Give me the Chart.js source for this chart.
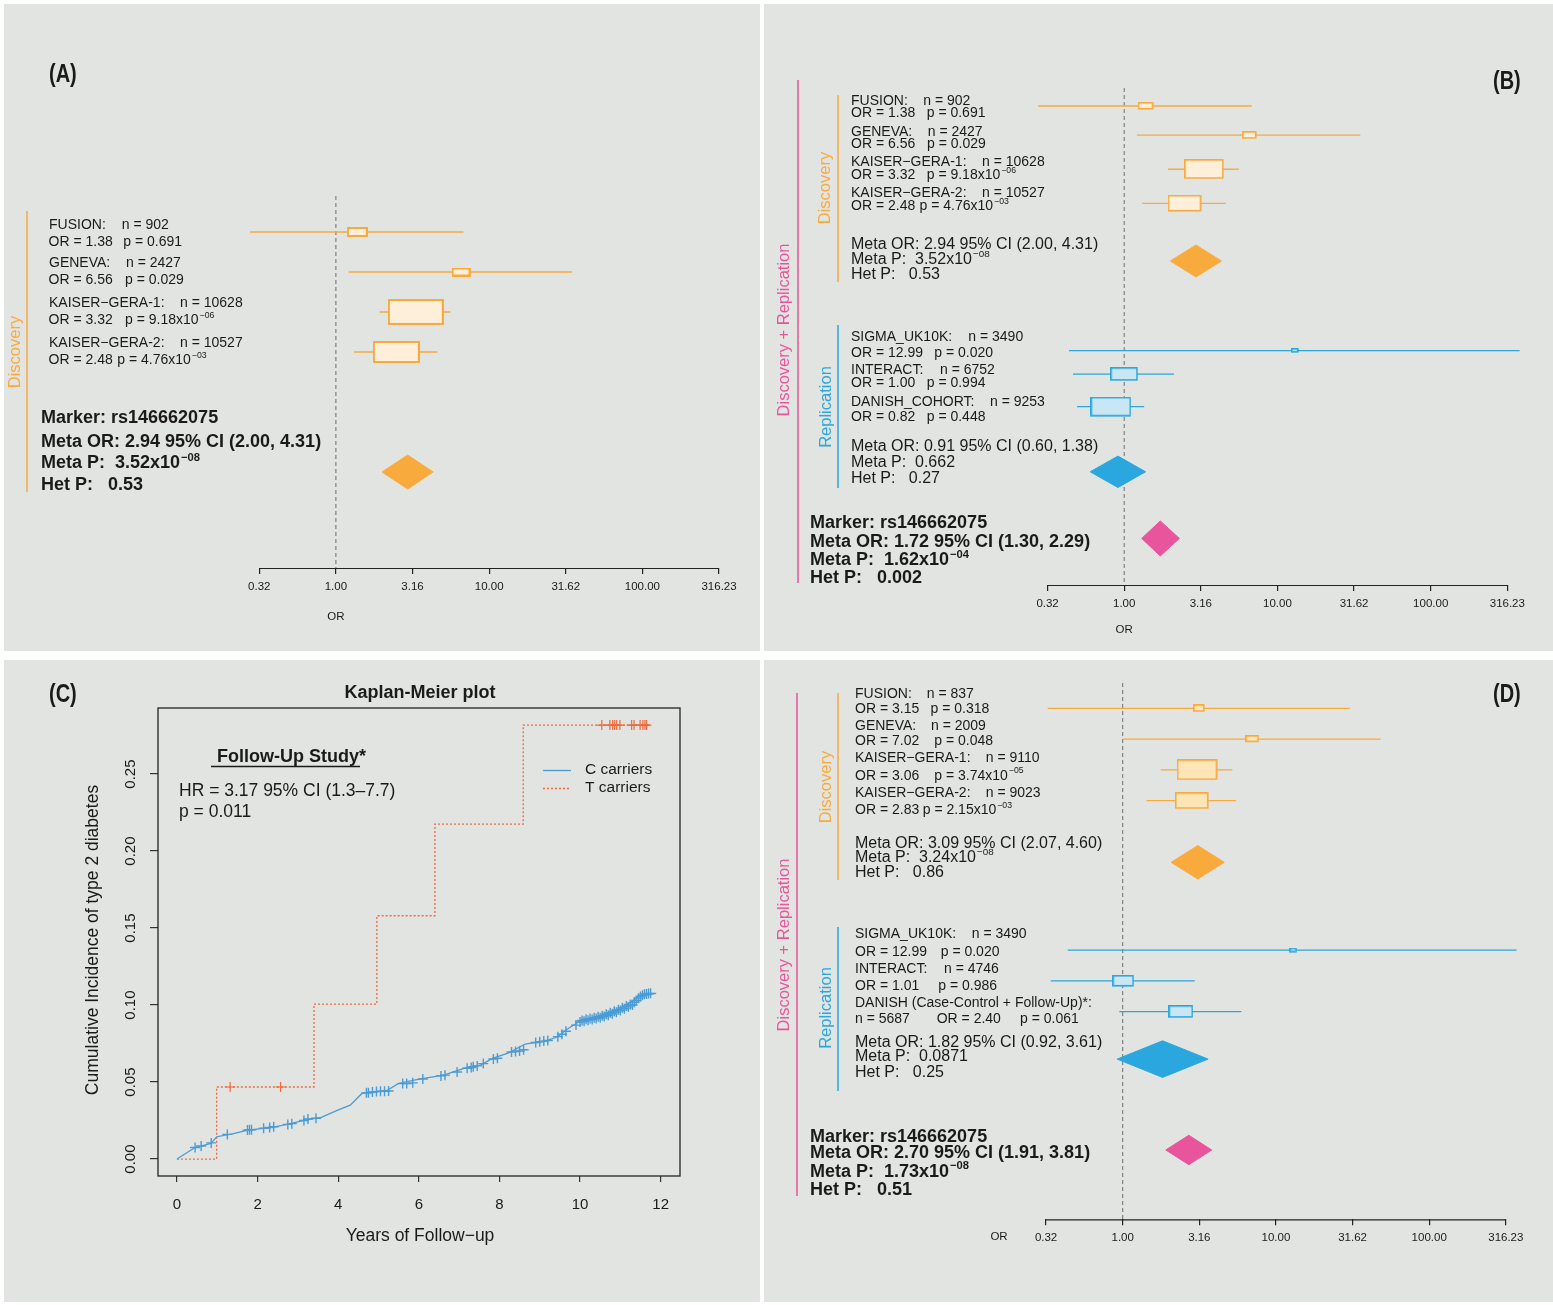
<!DOCTYPE html>
<html>
<head>
<meta charset="utf-8">
<script src="https://cdn.jsdelivr.net/npm/chart.js@4.4.1/dist/chart.umd.min.js"></script>
<style>
  body { margin: 0; background: #fff; width: 1553px; height: 1305px; position: relative; overflow: hidden; }
  .panel { position: absolute; background: #e2e4e1; }
  canvas { display: block; }
</style>
</head>
<body>
<div class="panel" style="left:4px;top:4px;width:756px;height:647px"><canvas id="chartA" width="756" height="647"></canvas></div>
<div class="panel" style="left:764px;top:4px;width:789px;height:647px"><canvas id="chartB" width="789" height="647"></canvas></div>
<div class="panel" style="left:4px;top:660px;width:756px;height:642px"><canvas id="chartC" width="756" height="642"></canvas></div>
<div class="panel" style="left:764px;top:660px;width:789px;height:642px"><canvas id="chartD" width="789" height="642"></canvas></div>
<script>
// ---------- data ----------
const axisTicks = [0.3162, 1, 3.162, 10, 31.62, 100, 316.23];
const axisLabels = ['0.32', '1.00', '3.16', '10.00', '31.62', '100.00', '316.23'];

// discovery cohorts (panels A and B)
const discStudies = ['FUSION', 'GENEVA', 'KAISER−GERA-1', 'KAISER−GERA-2'];
const discN = [902, 2427, 10628, 10527];
const discOR = [1.38, 6.56, 3.32, 2.48];
const discLo = [0.275, 1.21, 1.93, 1.31];
const discHi = [6.8, 34.8, 5.6, 4.6];
const discP = ['0.691', '0.029', '9.18x10^−06', '4.76x10^−03'];
const discMeta = [2.94, 2.00, 4.31];
const discMetaP = '3.52x10^−08';
const discHetP = '0.53';

// replication cohorts (panel B)
const repStudies = ['SIGMA_UK10K', 'INTERACT', 'DANISH_COHORT'];
const repN = [3490, 6752, 9253];
const repOR = [12.99, 1.00, 0.82];
const repLo = [0.436, 0.463, 0.492];
const repHi = [380, 2.11, 1.35];
const repP = ['0.020', '0.994', '0.448'];
const repMeta = [0.91, 0.60, 1.38];
const repMetaP = '0.662';
const repHetP = '0.27';

const allMeta = [1.72, 1.30, 2.29];
const allMetaP = '1.62x10^−04';
const allHetP = '0.002';

// panel D
const discN_D = [837, 2009, 9110, 9023];
const discOR_D = [3.15, 7.02, 3.06, 2.83];
const discLo_D = [0.324, 1.00, 1.77, 1.43];
const discHi_D = [30.3, 48.2, 5.2, 5.49];
const discP_D = ['0.318', '0.048', '3.74x10^−05', '2.15x10^−03'];
const discMeta_D = [3.09, 2.07, 4.60];
const discMetaP_D = '3.24x10^−08';
const discHetP_D = '0.86';

const repStudies_D = ['SIGMA_UK10K', 'INTERACT', 'DANISH (Case-Control + Follow-Up)*'];
const repN_D = [3490, 4746, 5687];
const repOR_D = [12.99, 1.01, 2.40];
const repLo_D = [0.438, 0.339, 0.95];
const repHi_D = [372, 2.95, 5.94];
const repP_D = ['0.020', '0.986', '0.061'];
const repMeta_D = [1.82, 0.92, 3.61];
const repMetaP_D = '0.0871';
const repHetP_D = '0.25';

const allMeta_D = [2.70, 1.91, 3.81];
const allMetaP_D = '1.73x10^−08';
const allHetP_D = '0.51';

// Kaplan-Meier (panel C)
const kmTimeC = [0, 0.44, 0.84, 0.99, 1.35, 1.76, 2.36, 2.77, 3.17, 3.58, 3.99, 4.3, 4.59, 5.2, 5.5, 6.01, 6.62, 7.12, 7.53, 7.83, 8.23, 8.64, 9.15, 9.45, 9.65, 10.01, 10.57, 11.07, 11.48, 11.89];
const kmIncC = [0, 0.0073, 0.0102, 0.0145, 0.0162, 0.0188, 0.0206, 0.0227, 0.0253, 0.0271, 0.0318, 0.035, 0.0426, 0.0444, 0.0491, 0.0519, 0.0545, 0.0589, 0.0610, 0.0654, 0.0690, 0.0747, 0.0768, 0.0794, 0.0838, 0.0898, 0.0935, 0.0989, 0.1058, 0.1076];
const kmTimeT = [0, 0.985, 3.40, 4.96, 6.40, 8.59, 11.76];
const kmIncT = [0, 0.0468, 0.1006, 0.158, 0.2175, 0.2818, 0.2818];
const censTimeC = [0.45, 0.6, 0.85, 1.25, 1.75, 1.8, 1.85, 2.15, 2.3, 2.4, 2.75, 2.85, 3.15, 3.25, 3.45,
  4.7, 4.75, 4.85, 4.95, 5.05, 5.15, 5.25, 5.6, 5.7, 5.85, 6.1, 6.55, 6.65, 6.95, 7.2, 7.3, 7.35, 7.45, 7.6,
  7.85, 7.95, 8.3, 8.4, 8.5, 8.6, 8.9, 9.0, 9.1, 9.2, 9.45, 9.55, 9.65, 9.9,
  10.00, 10.05, 10.10, 10.15, 10.20, 10.25, 10.30, 10.35, 10.40, 10.45, 10.50, 10.55, 10.60, 10.65, 10.70,
  10.75, 10.80, 10.85, 10.90, 10.95, 11.00, 11.05, 11.10, 11.15, 11.20, 11.25, 11.30, 11.35, 11.40, 11.45,
  11.50, 11.55, 11.60, 11.65, 11.70, 11.75];
const censIncC = [0.0075, 0.0085, 0.0105, 0.016, 0.0188, 0.019, 0.019, 0.020, 0.0205, 0.021, 0.0225, 0.023, 0.025, 0.026, 0.0265,
  0.043, 0.043, 0.0435, 0.0438, 0.044, 0.044, 0.0442, 0.049, 0.049, 0.0495, 0.052, 0.054, 0.0545, 0.0565, 0.059, 0.0595, 0.060, 0.0605, 0.062,
  0.065, 0.0655, 0.0695, 0.0698, 0.0702, 0.071, 0.0757, 0.0762, 0.0766, 0.077, 0.0795, 0.081, 0.083, 0.087,
  0.0890, 0.0900, 0.0895, 0.0908, 0.0902, 0.0912, 0.0906, 0.0918, 0.0912, 0.0924, 0.0918, 0.0930, 0.0926, 0.0940, 0.0934,
  0.0950, 0.0944, 0.0960, 0.0954, 0.0970, 0.0964, 0.0982, 0.0976, 0.0994, 0.0988, 0.1004, 0.1000, 0.1018, 0.1030, 0.1045,
  0.1055, 0.1064, 0.1070, 0.1072, 0.1075, 0.1076];
const censTimeT = [1.32, 2.57, 10.54, 10.74, 10.81, 10.86, 10.91, 10.99, 11.28, 11.34, 11.49, 11.56, 11.61, 11.65];
const censIncT = [0.0468, 0.0468, 0.2818, 0.2818, 0.2818, 0.2818, 0.2818, 0.2818, 0.2818, 0.2818, 0.2818, 0.2818, 0.2818, 0.2818];
const kmXTicks = [0, 2, 4, 6, 8, 10, 12];
const kmYTicks = [0, 0.05, 0.10, 0.15, 0.20, 0.25];

// ---------- style ----------
const FONT = "'Liberation Sans', Arial, Helvetica, sans-serif";
const INK = '#1a1a1a';
const ORANGE = '#f8aa3d', ORANGE_FILL = '#fdefda', ORANGE_FILL_D = '#fde5b8';
const BLUE = '#29a7de', BLUE_FILL = '#c8e6f4';
const PINK = '#e8559c';
const KM_BLUE = '#4b9bd5', KM_RED = '#ee6a3e';
const DEC = 153.25;   // px per decade on the OR axes
const AXIS_H = 40;

Chart.defaults.font.family = FONT;
Chart.defaults.color = INK;

function txt(ctx, s, x, y, size, opt = {}) {
  const weight = opt.bold ? 'bold ' : '';
  ctx.font = weight + size + 'px ' + FONT;
  ctx.fillStyle = opt.color || INK;
  ctx.textBaseline = 'middle';
  ctx.textAlign = opt.align || 'left';
  const parts = s.split('^');
  ctx.fillText(parts[0], x, y);
  if (parts[1]) {
    const w = ctx.measureText(parts[0]).width;
    ctx.font = weight + (size * 0.62).toFixed(1) + 'px ' + FONT;
    ctx.fillText(parts[1], x + w + 1, y - size * 0.33);
  }
}

function vtxt(ctx, s, x, y, size, color) {
  ctx.save();
  ctx.translate(x, y);
  ctx.rotate(-Math.PI / 2);
  ctx.font = size + 'px ' + FONT;
  ctx.fillStyle = color || INK;
  ctx.textAlign = 'center';
  ctx.textBaseline = 'middle';
  ctx.fillText(s, 0, 0);
  ctx.restore();
}

function panelLabel(ctx, s, x, y) {
  ctx.save();
  ctx.translate(x, y);
  ctx.scale(0.8, 1);
  ctx.font = 'bold 25px ' + FONT;
  ctx.fillStyle = INK;
  ctx.textBaseline = 'middle';
  ctx.fillText(s, 0, 0);
  ctx.restore();
}

function vline(ctx, x, y1, y2, color, w) {
  ctx.beginPath();
  ctx.moveTo(x, y1);
  ctx.lineTo(x, y2);
  ctx.strokeStyle = color;
  ctx.lineWidth = w || 1.5;
  ctx.stroke();
}

function boxImage(w, h, fill, stroke, lw) {
  const c = document.createElement('canvas');
  c.width = Math.ceil(w + lw);
  c.height = Math.ceil(h + lw);
  const g = c.getContext('2d');
  g.fillStyle = fill;
  g.fillRect(lw / 2, lw / 2, w, h);
  g.strokeStyle = stroke;
  g.lineWidth = lw;
  g.strokeRect(lw / 2, lw / 2, w, h);
  return c;
}

const fmt = v => v.toFixed(2);

// study text block: name / n on line 1, OR / p on line 2
function studyText(ctx, t, names, ns, ors, ps) {
  names.forEach((name, i) => {
    if (t.nX[i] === null) {
      txt(ctx, name + ':', t.x, t.nameY[i], t.size);
      txt(ctx, 'n = ' + ns[i], t.x, t.orY[i], t.size);
      txt(ctx, 'OR = ' + fmt(ors[i]), t.orX[i], t.orY[i], t.size);
    } else {
      txt(ctx, name + ':', t.x, t.nameY[i], t.size);
      txt(ctx, 'n = ' + ns[i], t.nX[i], t.nameY[i], t.size);
      txt(ctx, 'OR = ' + fmt(ors[i]), t.x - (t.orShift || 0), t.orY[i], t.size);
    }
    txt(ctx, 'p = ' + ps[i], t.pX[i], t.orY[i], t.size);
  });
}

function metaText(ctx, x, ys, size, meta, p, het, bold, marker) {
  const lines = [];
  if (marker) lines.push('Marker: rs146662075');
  lines.push('Meta OR: ' + fmt(meta[0]) + ' 95% CI (' + fmt(meta[1]) + ', ' + fmt(meta[2]) + ')');
  lines.push('Meta P:  ' + p);
  lines.push('Het P:   ' + het);
  lines.forEach((s, i) => txt(ctx, s, x, ys[i], size, { bold: bold }));
}

// ---------- forest plot builder ----------
function forestChart(cfg) {
  const rowsMax = (cfg.bottom - cfg.top) / cfg.rowPx;
  const datasets = [];
  datasets.push({
    data: [{ x: 1, y: cfg.refFrom }, { x: 1, y: rowsMax }],
    showLine: true, borderColor: '#6d6d6d', borderWidth: 1, borderDash: [4, 3], pointRadius: 0, order: 5
  });
  cfg.groups.forEach(g => {
    g.or.forEach((v, i) => {
      datasets.push({
        data: [{ x: g.lo[i], y: g.rows[i] }, { x: g.hi[i], y: g.rows[i] }],
        showLine: true, borderColor: g.color, borderWidth: g.ciWidth, pointRadius: 0, order: 4
      });
    });
    datasets.push({
      data: g.or.map((v, i) => ({ x: v, y: g.rows[i] })),
      pointStyle: g.boxes.map(b => boxImage(b[0], b[1], g.fill, g.color, g.boxLine)),
      pointRadius: 6, showLine: false, order: 1
    });
  });
  cfg.diamonds.forEach(d => {
    const h = d.half / cfg.rowPx;
    datasets.push({
      data: [{ x: d.meta[1], y: d.row }, { x: d.meta[0], y: d.row - h }, { x: d.meta[2], y: d.row },
             { x: d.meta[0], y: d.row + h }, { x: d.meta[1], y: d.row }],
      showLine: true, fill: 'shape', backgroundColor: d.color, borderColor: d.color,
      borderWidth: 1, pointRadius: 0, order: 2
    });
  });

  const annot = {
    id: 'annot' + cfg.id,
    afterDraw(chart) {
      const ctx = chart.ctx;
      const xs = chart.scales.x;
      const yb = chart.chartArea.bottom;
      ctx.save();
      ctx.beginPath();
      ctx.moveTo(xs.getPixelForValue(axisTicks[0]), yb + 0.5);
      ctx.lineTo(xs.getPixelForValue(axisTicks[axisTicks.length - 1]), yb + 0.5);
      ctx.strokeStyle = '#222';
      ctx.lineWidth = 1.2;
      ctx.stroke();
      ctx.translate(-cfg.ox, -cfg.oy);
      cfg.text(ctx, xs.getPixelForValue(1) + cfg.ox);
      ctx.restore();
    }
  };

  return new Chart(document.getElementById(cfg.canvas), {
    type: 'scatter',
    data: { datasets: datasets },
    options: {
      responsive: false, animation: false, events: [],
      layout: { autoPadding: false,
                padding: { top: cfg.top - cfg.oy, bottom: cfg.oy + cfg.h - cfg.bottom - AXIS_H, left: 0, right: 0 } },
      plugins: { legend: { display: false }, tooltip: { enabled: false } },
      scales: {
        x: {
          type: 'logarithmic',
          min: Math.pow(10, (cfg.ox - cfg.one) / DEC),
          max: Math.pow(10, (cfg.ox + cfg.w - cfg.one) / DEC),
          afterBuildTicks: s => { s.ticks = axisTicks.map(v => ({ value: v })); },
          afterFit: s => { s.height = AXIS_H; },
          border: { display: false },
          grid: { display: true, drawOnChartArea: false, drawTicks: true, tickLength: 6, color: '#222', lineWidth: 1.2 },
          ticks: { autoSkip: false, maxRotation: 0, padding: 6, font: { size: 11.5 }, color: INK,
                   callback: (v, i) => axisLabels[i] }
        },
        y: { type: 'linear', reverse: true, min: 0, max: rowsMax, display: false }
      }
    },
    plugins: [annot]
  });
}

// ---------- panel A ----------
forestChart({
  id: 'A', canvas: 'chartA', ox: 4, oy: 4, w: 756, h: 647,
  one: 335.9, top: 192, bottom: 568, rowPx: 40, refFrom: 0.1,
  groups: [
    { or: discOR, lo: discLo, hi: discHi, rows: [1, 2, 3, 4], boxes: [[19, 8], [17, 7], [54, 24], [45, 20]],
      color: ORANGE, fill: ORANGE_FILL, boxLine: 2, ciWidth: 1.5 }
  ],
  diamonds: [{ meta: discMeta, row: 7, half: 17, color: ORANGE }],
  text(ctx, xOne) {
    panelLabel(ctx, '(A)', 49, 75);
    vline(ctx, 27, 211, 492, ORANGE, 1.5);
    vtxt(ctx, 'Discovery', 15, 352, 16.5, ORANGE);
    studyText(ctx, { x: 49, size: 14, nameY: [225, 263.3, 303.3, 343.3], orY: [241.7, 280, 320, 360],
      nX: [121.7, 126, 180, 180], pX: [123.3, 125, 125, 117.3], orShift: 0.5 },
      discStudies, discN, discOR, discP);
    metaText(ctx, 41, [418, 441.7, 463.5, 485], 18, discMeta, discMetaP, discHetP, true, true);
    txt(ctx, 'OR', xOne, 617, 11.5, { align: 'center' });
  }
});

// ---------- panel B ----------
forestChart({
  id: 'B', canvas: 'chartB', ox: 764, oy: 4, w: 789, h: 647,
  one: 1124.2, top: 75, bottom: 585, rowPx: 31, refFrom: 0.42,
  groups: [
    { or: discOR, lo: discLo, hi: discHi, rows: [1, 1.94, 3.04, 4.14], boxes: [[14, 6], [13, 6], [38, 18], [32, 15]],
      color: ORANGE, fill: ORANGE_FILL, boxLine: 1.6, ciWidth: 1.3 },
    { or: repOR, lo: repLo, hi: repHi, rows: [8.89, 9.65, 10.7], boxes: [[6, 3], [26, 12], [39, 18]],
      color: BLUE, fill: BLUE_FILL, boxLine: 1.6, ciWidth: 1.3 }
  ],
  diamonds: [
    { meta: discMeta, row: 6.0, half: 16, color: ORANGE },
    { meta: repMeta, row: 12.8, half: 15.7, color: BLUE },
    { meta: allMeta, row: 14.95, half: 17.5, color: PINK }
  ],
  text(ctx, xOne) {
    panelLabel(ctx, '(B)', 1493, 82);
    vline(ctx, 798, 80, 583, PINK, 1.5);
    vtxt(ctx, 'Discovery + Replication', 784, 330, 16.5, PINK);
    vline(ctx, 838, 95, 282, ORANGE, 1.5);
    vtxt(ctx, 'Discovery', 825, 188, 16.5, ORANGE);
    vline(ctx, 838, 325, 488, BLUE, 1.5);
    vtxt(ctx, 'Replication', 826, 407, 16.5, BLUE);
    studyText(ctx, { x: 851, size: 14, nameY: [100.7, 131.7, 162.3, 193.3], orY: [113.3, 144, 175, 206],
      nX: [923.3, 927.7, 982, 982], pX: [926.7, 927, 926.7, 919.5] },
      discStudies, discN, discOR, discP);
    metaText(ctx, 851, [245, 260, 275], 16, discMeta, discMetaP, discHetP, false, false);
    studyText(ctx, { x: 851, size: 14, nameY: [337.3, 370, 402.3], orY: [353.3, 383.3, 416.7],
      nX: [968.3, 940, 990], pX: [934.3, 926.7, 926.7] },
      repStudies, repN, repOR, repP);
    metaText(ctx, 851, [446.7, 462.3, 478.3], 16, repMeta, repMetaP, repHetP, false, false);
    metaText(ctx, 810, [522.7, 542.2, 560.5, 577.7], 18, allMeta, allMetaP, allHetP, true, true);
    txt(ctx, 'OR', xOne, 630, 11.5, { align: 'center' });
  }
});

// ---------- panel D ----------
forestChart({
  id: 'D', canvas: 'chartD', ox: 764, oy: 660, w: 789, h: 642,
  one: 1122.7, top: 677.5, bottom: 1219.3, rowPx: 30.8, refFrom: 0.18,
  groups: [
    { or: discOR_D, lo: discLo_D, hi: discHi_D, rows: [1, 2, 3, 4], boxes: [[10, 6], [12, 5.5], [39, 19], [32, 15]],
      color: ORANGE, fill: ORANGE_FILL_D, boxLine: 1.6, ciWidth: 1.3 },
    { or: repOR_D, lo: repLo_D, hi: repHi_D, rows: [8.85, 9.85, 10.85], boxes: [[6, 3], [20, 10], [23, 11]],
      color: BLUE, fill: BLUE_FILL, boxLine: 1.6, ciWidth: 1.3 }
  ],
  diamonds: [
    { meta: discMeta_D, row: 6.0, half: 16.7, color: ORANGE },
    { meta: repMeta_D, row: 12.39, half: 18.3, color: BLUE },
    { meta: allMeta_D, row: 15.34, half: 14.7, color: PINK }
  ],
  text(ctx, xOne) {
    panelLabel(ctx, '(D)', 1493, 695);
    vline(ctx, 797, 693, 1196, PINK, 1.5);
    vtxt(ctx, 'Discovery + Replication', 784, 945, 16.5, PINK);
    vline(ctx, 838, 693, 880, ORANGE, 1.5);
    vtxt(ctx, 'Discovery', 826, 787, 16.5, ORANGE);
    vline(ctx, 838, 927, 1091, BLUE, 1.5);
    vtxt(ctx, 'Replication', 826, 1008, 16.5, BLUE);
    studyText(ctx, { x: 855, size: 14, nameY: [694, 725.7, 758.3, 793.3], orY: [709.3, 740.7, 775.7, 810],
      nX: [926.7, 931, 985.7, 985.7], pX: [930.5, 934.3, 934.3, 922.7] },
      discStudies, discN_D, discOR_D, discP_D);
    metaText(ctx, 855, [843.3, 857.7, 872.7], 16, discMeta_D, discMetaP_D, discHetP_D, false, false);
    studyText(ctx, { x: 855, size: 14, nameY: [934, 969.3, 1003.3], orY: [951.7, 985.7, 1019],
      nX: [971.7, 944, null], pX: [940.7, 938.3, 1020], orX: [null, null, 936.7] },
      repStudies_D, repN_D, repOR_D, repP_D);
    metaText(ctx, 855, [1042.7, 1056.7, 1072.7], 16, repMeta_D, repMetaP_D, repHetP_D, false, false);
    metaText(ctx, 810, [1136.7, 1153.3, 1171.7, 1190], 18, allMeta_D, allMetaP_D, allHetP_D, true, true);
    txt(ctx, 'OR', 999, 1237, 11.5, { align: 'center' });
  }
});

// ---------- panel C : Kaplan-Meier ----------
(function () {
  const ox = 4, oy = 660;
  const annotC = {
    id: 'annotC',
    afterDraw(chart) {
      const ctx = chart.ctx;
      const a = chart.chartArea;
      const ys = chart.scales.y;
      ctx.save();
      ctx.strokeStyle = '#222';
      ctx.lineWidth = 1.3;
      ctx.strokeRect(a.left, a.top, a.right - a.left, a.bottom - a.top);
      ys.ticks.forEach(t => {
        vtxt(ctx, t.value.toFixed(2), 131 - ox, ys.getPixelForValue(t.value), 15, INK);
      });
      ctx.translate(-ox, -oy);
      panelLabel(ctx, '(C)', 49, 695);
      txt(ctx, 'Kaplan-Meier plot', 420, 693, 18, { bold: true, align: 'center' });
      txt(ctx, 'Follow-Up Study*', 217, 757, 18, { bold: true });
      ctx.beginPath();
      ctx.moveTo(211, 766.5);
      ctx.lineTo(360, 766.5);
      ctx.strokeStyle = INK;
      ctx.lineWidth = 1.5;
      ctx.stroke();
      txt(ctx, 'HR = 3.17 95% CI (1.3–7.7)', 179, 791, 17.5);
      txt(ctx, 'p = 0.011', 179, 812, 17.5);
      // legend
      ctx.beginPath();
      ctx.moveTo(543, 770.5); ctx.lineTo(571, 770.5);
      ctx.strokeStyle = KM_BLUE; ctx.lineWidth = 1.3; ctx.setLineDash([]); ctx.stroke();
      ctx.beginPath();
      ctx.moveTo(543, 788.5); ctx.lineTo(571, 788.5);
      ctx.strokeStyle = KM_RED; ctx.setLineDash([2, 2]); ctx.stroke();
      ctx.setLineDash([]);
      txt(ctx, 'C carriers', 585, 770, 15.5);
      txt(ctx, 'T carriers', 585, 788, 15.5);
      vtxt(ctx, 'Cumulative Incidence of type 2 diabetes', 93, 940, 17.5, INK);
      txt(ctx, 'Years of Follow−up', 420, 1236, 17.5, { align: 'center' });
      ctx.restore();
    }
  };

  new Chart(document.getElementById('chartC'), {
    type: 'scatter',
    data: {
      datasets: [
        { label: 'C carriers', data: kmTimeC.map((t, i) => ({ x: t, y: kmIncC[i] })),
          showLine: true, borderColor: KM_BLUE, borderWidth: 1.3, pointRadius: 0, order: 2 },
        { label: 'T carriers', data: kmTimeT.map((t, i) => ({ x: t, y: kmIncT[i] })),
          showLine: true, stepped: 'before', borderColor: KM_RED, borderDash: [2, 2], borderWidth: 1.3, pointRadius: 0, order: 3 },
        { data: censTimeC.map((t, i) => ({ x: t, y: censIncC[i] })), showLine: false,
          pointStyle: 'cross', pointRadius: 5, borderColor: KM_BLUE, borderWidth: 1.4, order: 1 },
        { data: censTimeT.map((t, i) => ({ x: t, y: censIncT[i] })), showLine: false,
          pointStyle: 'cross', pointRadius: 5, borderColor: KM_RED, borderWidth: 1.2, order: 1 }
      ]
    },
    options: {
      responsive: false, animation: false, events: [],
      layout: { autoPadding: false, padding: { top: 48, bottom: 642 - 516 - 40, left: 154 - 40, right: 756 - 676 } },
      plugins: { legend: { display: false }, tooltip: { enabled: false } },
      scales: {
        x: {
          type: 'linear', min: -0.47, max: 12.48,
          afterBuildTicks: s => { s.ticks = kmXTicks.map(v => ({ value: v })); },
          afterFit: s => { s.height = 40; },
          border: { display: false },
          grid: { drawOnChartArea: false, drawTicks: true, tickLength: 6, color: '#333', lineWidth: 1.2 },
          ticks: { autoSkip: false, maxRotation: 0, padding: 14, font: { size: 15 }, color: INK, callback: v => String(v) }
        },
        y: {
          type: 'linear', min: -0.011, max: 0.2929,
          afterBuildTicks: s => { s.ticks = kmYTicks.map(v => ({ value: v })); },
          afterFit: s => { s.width = 40; },
          border: { display: false },
          grid: { drawOnChartArea: false, drawTicks: true, tickLength: 8, color: '#333', lineWidth: 1.2 },
          ticks: { color: 'rgba(0,0,0,0)', font: { size: 15 } }
        }
      }
    },
    plugins: [annotC]
  });
})();
</script>
</body>
</html>
